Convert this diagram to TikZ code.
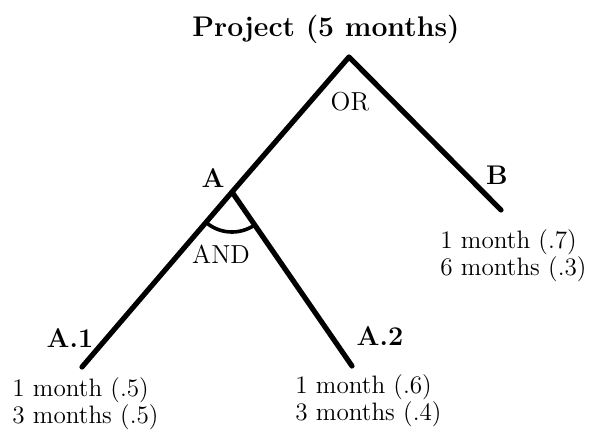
\documentclass[tikz,border=0pt]{standalone}
\usepackage{tikz}
\usetikzlibrary{positioning,calc}
\tikzset{
  branch/.style={line width=2.6pt,line cap=round,line join=round},
  andarc/.style={line width=1.8pt},
  ttl/.style={font=\fontsize{14.2}{17}\selectfont\bfseries,inner sep=0pt},
  vlbl/.style={font=\fontsize{13.5}{15}\selectfont\bfseries,inner sep=0pt},
  oplbl/.style={font=\fontsize{13}{15}\selectfont,inner sep=0pt},
  outc/.style={font=\fontsize{12.6}{13.4}\selectfont,align=left,inner sep=0pt,anchor=north west},
}

\begin{document}
\begin{tikzpicture}[x=0.5pt,y=0.5pt]
  \useasboundingbox (0,0) rectangle (590,435);
  % tree points
  \coordinate (proj) at (349,378);
  \coordinate (A) at (232,243);
  \coordinate (B) at (501,225);
  \coordinate (A1) at (82,68);
  \coordinate (A2) at (352,69);
  % branches
  \draw[branch] (A1)--(A)--(proj)--(B);
  \draw[branch] (A)--(A2);
  \draw[andarc] (A) ++(229:40) arc[start angle=229,end angle=304,radius=40];
  % labels
  \node[ttl,anchor=base] (ttl) at (326,398) {Project (5 months)};
  \node[oplbl,anchor=base] (or) at (350,325) {OR};
  \node[oplbl,anchor=base] (and) at (221,172) {AND};
  \node[vlbl,anchor=base] (lA) at (213,248) {A};
  \node[vlbl,anchor=base] (lB) at (497,250) {B};
  \node[vlbl,anchor=base] (lA1) at (70,88) {A.1};
  \node[vlbl,anchor=base] (lA2) at (380,90) {A.2};
  % outcomes
  \node[outc] (oA1) at (12,58) {1 month (.5)\\3 months (.5)};
  \node[outc] (oA2) at (295,61) {1 month (.6)\\3 months (.4)};
  \node[outc] (oB) at (440,206) {1 month (.7)\\6 months (.3)};
\end{tikzpicture}
\end{document}
